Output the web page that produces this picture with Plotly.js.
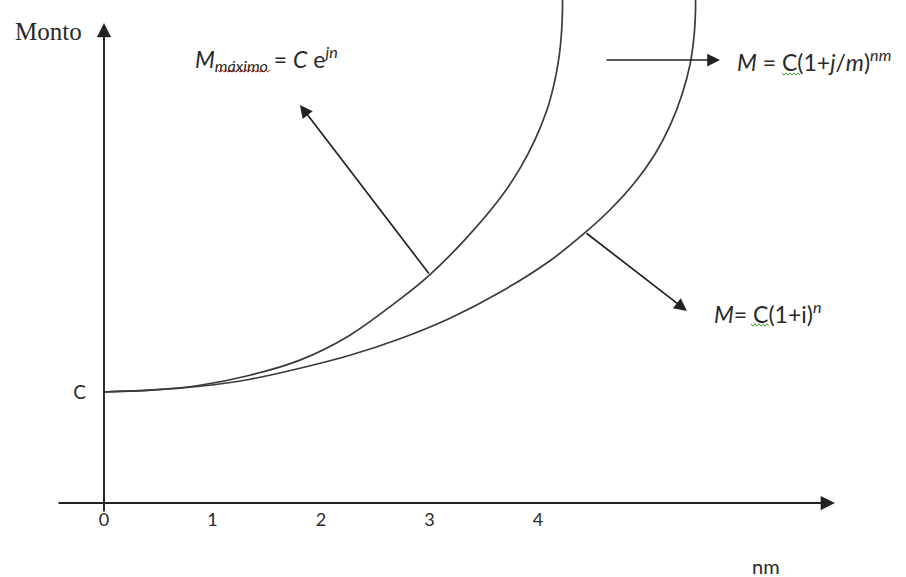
<!DOCTYPE html>
<html>
<head>
<meta charset="utf-8">
<script src="https://cdn.plot.ly/plotly-3.0.1.min.js"></script>
<style>html,body{margin:0;padding:0;background:#fff;}#chart{width:906px;height:577px;}</style>
</head>
<body>
<div id="chart"></div>
<script>
// Upper curve: M_max = C e^{jn}; x in nm units, y in units of C
const nmMax = [0, 0.424, 0.885, 1.346, 1.806, 2.267, 2.728, 3.005, 3.327, 3.650, 3.834, 3.972, 4.083, 4.147, 4.194, 4.217, 4.226, 4.226];
const montoMax = [1.000, 1.016, 1.061, 1.151, 1.287, 1.512, 1.836, 2.058, 2.373, 2.745, 3.015, 3.272, 3.542, 3.769, 4.017, 4.243, 4.459, 4.560];
// Lower curve: M = C(1+j/m)^{nm}
const nmComp = [0, 0.424, 0.885, 1.346, 1.806, 2.267, 2.728, 3.189, 3.650, 4.111, 4.433, 4.664, 4.894, 5.078, 5.217, 5.327, 5.401, 5.438, 5.452, 5.452];
const montoComp = [1.000, 1.016, 1.052, 1.115, 1.214, 1.331, 1.480, 1.665, 1.899, 2.183, 2.435, 2.642, 2.890, 3.142, 3.399, 3.678, 3.949, 4.201, 4.441, 4.560];

const xTickVals = [0, 1, 2, 3, 4];
const xTickText = ['0', '1', '2', '3', '4'];
const yTickVals = [1];
const yTickText = ['C'];

const lineColor = '#3a3a3a';
const txtColor = '#2a2a2a';
const sans = 'Lato, "Open Sans", sans-serif';

const traces = [
  {x: nmMax, y: montoMax, mode: 'lines', line: {color: lineColor, width: 1.7, shape: 'spline', smoothing: 0.8}, hoverinfo: 'skip'},
  {x: nmComp, y: montoComp, mode: 'lines', line: {color: lineColor, width: 1.7, shape: 'spline', smoothing: 0.8}, hoverinfo: 'skip'}
];

function arrow(x, y, ax, ay, w) {
  return {x: x, y: y, ax: ax, ay: ay, xref: 'x', yref: 'y', axref: 'x', ayref: 'y',
    text: '', showarrow: true, arrowhead: 2, arrowsize: 1.5, arrowwidth: w || 1.7, arrowcolor: '#222222', standoff: 0};
}

// decorative spell-check squiggles (pixel geometry -> paper fractions)
const PL = 104, PW = 802, PB = 503, PH = 503;
function squiggle(x0, x1, yPix, color) {
  let d = '';
  let up = true;
  for (let px = x0; px <= x1; px += 2) {
    const py = yPix + (up ? -1.2 : 1.2);
    d += (d ? ' L ' : 'M ') + ((px - PL) / PW).toFixed(5) + ',' + ((PB - py) / PH).toFixed(5);
    up = !up;
  }
  return {type: 'path', xref: 'paper', yref: 'paper', path: d, line: {color: color, width: 1}, layer: 'above'};
}

const annotations = [
  // axes with arrowheads
  arrow(6.737, 0, -0.433, 0, 1.9),
  arrow(0, 4.324, 0, -0.09, 1.9),
  // pointers
  arrow(1.806, 3.586, 3.005, 2.054),
  arrow(5.677, 3.991, 4.618, 3.991),
  arrow(5.373, 1.730, 4.433, 2.441),
  // texts
  {x: -0.1135, y: 0.9364, xref: 'paper', yref: 'paper', xanchor: 'left', yanchor: 'middle', text: 'Monto', showarrow: false,
    font: {family: 'Liberation Serif, serif', size: 25, color: txtColor}},
  {x: 0.820, y: 4.009, xref: 'x', yref: 'y', xanchor: 'left', yanchor: 'middle', text: '<i>M</i><sub><i>máximo</i></sub> = <i>C</i> e<sup><i>jn</i></sup>', showarrow: false,
    font: {family: sans, size: 23, color: txtColor}},
  {x: 5.816, y: 3.991, xref: 'x', yref: 'y', xanchor: 'left', yanchor: 'middle', text: '<i>M</i> = C(1+<i>j</i>/<i>m</i>)<sup><i>nm</i></sup>', showarrow: false,
    font: {family: sans, size: 23, color: txtColor}},
  {x: 5.604, y: 1.712, xref: 'x', yref: 'y', xanchor: 'left', yanchor: 'middle', text: '<i>M</i>= C(1+i)<sup><i>n</i></sup>', showarrow: false,
    font: {family: sans, size: 23, color: txtColor}},
  {x: 0.8055, y: -0.1252, xref: 'paper', yref: 'paper', xanchor: 'left', yanchor: 'middle', text: 'nm', showarrow: false,
    font: {family: sans, size: 20, color: txtColor}}
];

const layout = {
  width: 906, height: 577,
  margin: {l: 104, r: 0, t: 0, b: 74},
  paper_bgcolor: '#ffffff', plot_bgcolor: '#ffffff',
  showlegend: false,
  xaxis: {range: [0, 7.392], tickvals: xTickVals, ticktext: xTickText, showgrid: false, zeroline: false, showline: false,
    ticks: '', ticklabelstandoff: 4, tickfont: {family: sans, size: 18, color: txtColor}, fixedrange: true},
  yaxis: {range: [0, 4.5315], tickvals: yTickVals, ticktext: yTickText, showgrid: false, zeroline: false, showline: false,
    ticks: '', ticklabelstandoff: 17, tickfont: {family: sans, size: 19, color: txtColor}, fixedrange: true},
  annotations: annotations,
  shapes: [
    squiggle(218, 270, 71, '#d9342b'),
    squiggle(782, 800, 74, '#4a9a3a'),
    squiggle(751, 769, 325, '#4a9a3a')
  ]
};

Plotly.newPlot('chart', traces, layout, {displayModeBar: false, staticPlot: true});
</script>
</body>
</html>
